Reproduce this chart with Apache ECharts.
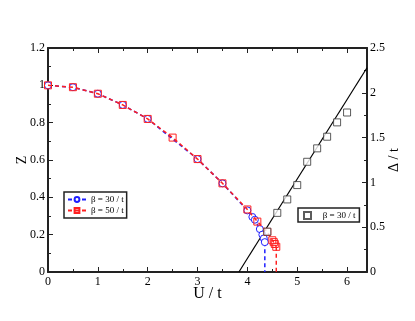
<!DOCTYPE html>
<html><head><meta charset="utf-8">
<script src="https://cdn.jsdelivr.net/npm/echarts@6/dist/echarts.min.js"></script>
<style>html,body{margin:0;padding:0;background:#fff}#c{width:415px;height:321px}</style>
</head><body><div id="c"></div>
<script>
// Quasiparticle weight Z vs U/t
const uBeta30 = [0, 0.5, 1, 1.5, 2, 3, 3.5, 4, 4.1, 4.15, 4.25, 4.3, 4.33, 4.35];
const zBeta30 = [1.0, 0.99, 0.955, 0.895, 0.82, 0.605, 0.475, 0.33, 0.295, 0.28, 0.23, 0.2, 0.18, 0.16];
const uBeta50 = [0, 0.5, 1, 1.5, 2, 2.5, 3, 3.5, 4, 4.2, 4.4, 4.5, 4.53, 4.55, 4.58];
const zBeta50 = [1.0, 0.99, 0.955, 0.895, 0.82, 0.72, 0.605, 0.475, 0.335, 0.27, 0.215, 0.17, 0.16, 0.15, 0.135];
// transition drop lines
const uDrop30 = 4.35, uDrop50 = 4.58;
// Gap Delta/t vs U/t (beta=30/t)
const uGap = [4.4, 4.6, 4.8, 5.0, 5.2, 5.4, 5.6, 5.8, 6.0];
const gap = [0.45, 0.66, 0.81, 0.97, 1.23, 1.38, 1.51, 1.67, 1.78];
// linear fit line endpoints
const fitU = [3.83, 6.4];
const fitGap = [0, 2.28];

const zip = (a, b) => a.map((v, i) => [v, b[i]]);
const FONT = 'Liberation Serif';
const axisLine = {show: true, onZero: false, lineStyle: {color: '#222', width: 2}};
const chart = echarts.init(document.getElementById('c'));
chart.setOption({
  animation: false,
  grid: {left: 48, top: 48, right: 48, bottom: 49, containLabel: false, outerBoundsMode: 'none'},
  legend: [
    {data: ['β = 30 / t', 'β = 50 / t'], left: 64, top: 192, orient: 'vertical',
     itemWidth: 18, itemHeight: 6, itemGap: 2, padding: [3, 3, 3, 3],
     borderColor: '#222', borderWidth: 1.5,
     textStyle: {fontFamily: FONT, fontSize: 9, color: '#000'}},
    {data: ['Δ β = 30 / t'], left: 298, top: 208, orient: 'vertical',
     itemWidth: 7, itemHeight: 7, padding: [3, 4, 2, 5],
     borderColor: '#222', borderWidth: 1.5,
     formatter: () => '   β = 30 / t',
     textStyle: {fontFamily: FONT, fontSize: 9, color: '#000'}}
  ],
  xAxis: [
    {type: 'value', min: 0, max: 6.4, interval: 1, position: 'bottom',
     name: 'U / t', nameLocation: 'middle', nameGap: 14, nameMoveOverlap: false,
     nameTextStyle: {fontFamily: FONT, fontSize: 16, color: '#000'},
     axisLine, axisTick: {inside: true, length: 5, lineStyle: {color: '#222'}},
     minorTick: {show: true, splitNumber: 2, length: 3, lineStyle: {color: '#222'}},
     axisLabel: {fontFamily: FONT, fontSize: 12, color: '#000', margin: 4,
       showMaxLabel: false},
     splitLine: {show: false}},
    {type: 'value', min: 0, max: 6.4, interval: 1, position: 'top',
     axisLine, axisTick: {inside: true, length: 5, lineStyle: {color: '#222'}},
     minorTick: {show: true, splitNumber: 2, length: 3, lineStyle: {color: '#222'}},
     axisLabel: {show: false}, splitLine: {show: false}}
  ],
  yAxis: [
    {type: 'value', min: 0, max: 1.2, interval: 0.2, position: 'left',
     name: 'Z', nameLocation: 'middle', nameGap: 19, nameRotate: 90, nameMoveOverlap: false,
     nameTextStyle: {fontFamily: FONT, fontSize: 14, color: '#000'},
     axisLine, axisTick: {inside: true, length: 5, lineStyle: {color: '#222'}},
     minorTick: {show: true, splitNumber: 2, length: 3, lineStyle: {color: '#222'}},
     axisLabel: {fontFamily: FONT, fontSize: 12, color: '#000', margin: 3},
     splitLine: {show: false}},
    {type: 'value', min: 0, max: 2.5, interval: 0.5, position: 'right',
     name: 'Δ / t', nameLocation: 'middle', nameGap: 20, nameRotate: 90, nameMoveOverlap: false,
     nameTextStyle: {fontFamily: FONT, fontSize: 14, color: '#000'},
     axisLine, axisTick: {inside: true, length: 5, lineStyle: {color: '#222'}},
     minorTick: {show: true, splitNumber: 2, length: 3, lineStyle: {color: '#222'}},
     axisLabel: {fontFamily: FONT, fontSize: 12, color: '#000', margin: 3},
     splitLine: {show: false}}
  ],
  series: [
    {name: 'β = 30 / t', type: 'line', xAxisIndex: 0, yAxisIndex: 0,
     data: zip(uBeta30, zBeta30), symbol: 'circle', symbolSize: 7,
     itemStyle: {color: '#fff', borderColor: '#1f1fff', borderWidth: 1},
     lineStyle: {color: '#1f1fff', width: 1.5, type: [4, 3]}, z: 3},
    {name: 'drop30', type: 'line', xAxisIndex: 0, yAxisIndex: 0,
     data: [[uDrop30, zBeta30[zBeta30.length - 1]], [uDrop30, 0]], symbol: 'none',
     lineStyle: {color: '#1f1fff', width: 1.5, type: [4, 3]}, z: 3},
    {name: 'β = 50 / t', type: 'line', xAxisIndex: 0, yAxisIndex: 0,
     data: zip(uBeta50, zBeta50), symbol: 'rect', symbolSize: 7,
     itemStyle: {color: 'rgba(255,255,255,0)', borderColor: '#ff2020', borderWidth: 1},
     lineStyle: {color: '#ff2020', width: 1.5, type: [4, 3]}, z: 4},
    {name: 'drop50', type: 'line', xAxisIndex: 0, yAxisIndex: 0,
     data: [[uDrop50, zBeta50[zBeta50.length - 1]], [uDrop50, 0]], symbol: 'none',
     lineStyle: {color: '#ff2020', width: 1.5, type: [4, 3]}, z: 4},
    {name: 'fit', type: 'line', xAxisIndex: 0, yAxisIndex: 1,
     data: zip(fitU, fitGap), symbol: 'none',
     lineStyle: {color: '#000', width: 1.2}, z: 2},
    {name: 'Δ β = 30 / t', type: 'scatter', xAxisIndex: 0, yAxisIndex: 1,
     data: zip(uGap, gap), symbol: 'rect', symbolSize: 7,
     itemStyle: {color: '#fff', borderColor: '#333', borderWidth: 1}, z: 5}
  ]
});
</script></body></html>
